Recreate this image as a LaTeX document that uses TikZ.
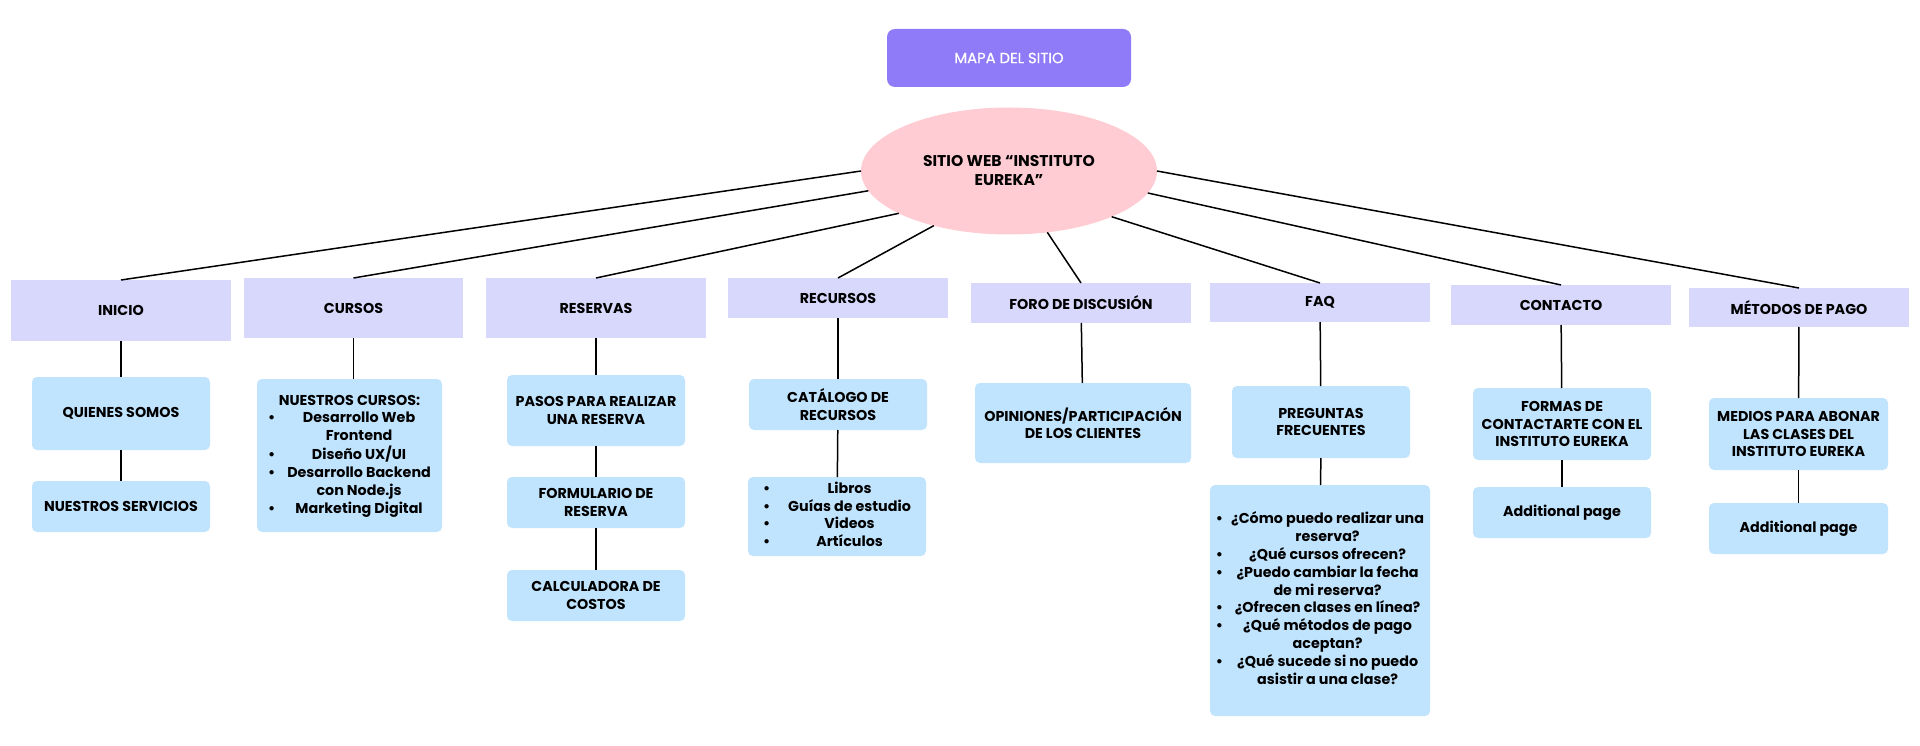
\documentclass[tikz,border=0pt]{standalone}
\usepackage{fontspec}
\setmainfont{Poppins}
\newfontfamily\titlefont{Poppins}[FakeBold=0.8]
\usetikzlibrary{shapes.geometric}
\definecolor{titlec}{HTML}{8F7BF8}
\definecolor{ellc}{HTML}{FFCCD3}
\definecolor{lavc}{HTML}{D8D8FD}
\definecolor{bluec}{HTML}{C1E4FE}
\begin{document}
\begin{tikzpicture}[x=1pt,y=-1pt,
  every node/.style={inner sep=0pt, outer sep=0pt, align=center, text=black,
    font=\fontsize{14.3}{17.8}\selectfont\bfseries},
  lvlone/.style={fill=lavc, rectangle},
  lvltwo/.style={fill=bluec, rectangle, rounded corners=5pt},
  conn/.style={line width=1.5pt, draw=black}]
\fill[white] (0,0) rectangle (1920,746);
\useasboundingbox (0,0) rectangle (1920,746);

% title and centre
\node[fill=titlec, rounded corners=8pt, minimum width=244, minimum height=58,
  text=white, font=\titlefont\fontsize{14.8}{17}\selectfont] (title) at (1009,58) {MAPA DEL SITIO};
\node[ellipse, fill=ellc, minimum width=296, minimum height=127,
  font=\fontsize{15.6}{19}\selectfont\bfseries] (web) at (1009,171)
  {SITIO WEB “INSTITUTO\\EUREKA”};

% level one
\node[lvlone, minimum width=220, minimum height=61] (inicio) at (121,310.5) {INICIO};
\node[lvlone, minimum width=219, minimum height=60] (cursos) at (353.5,308) {CURSOS};
\node[lvlone, minimum width=220, minimum height=60] (reservas) at (596,308) {RESERVAS};
\node[lvlone, minimum width=220, minimum height=40] (recursos) at (838,298) {RECURSOS};
\node[lvlone, minimum width=220, minimum height=40] (foro) at (1081,303) {FORO DE DISCUSIÓN};
\node[lvlone, minimum width=220, minimum height=39] (faq) at (1320,302.5) {FAQ};
\node[lvlone, minimum width=220, minimum height=40] (contacto) at (1561,305) {CONTACTO};
\node[lvlone, minimum width=220, minimum height=39] (metodos) at (1799,307.5) {MÉTODOS DE PAGO};

% level two
\node[lvltwo, minimum width=178, minimum height=73] (quienes) at (121,413.5) {QUIENES SOMOS};
\node[lvltwo, minimum width=178, minimum height=51] (servicios) at (121,506.5) {NUESTROS SERVICIOS};
\node[lvltwo, minimum width=185, minimum height=153] (ncursos) at (349.5,455.5)
  {\begin{tabular}{@{}c@{\hspace{12pt}}c@{}}
   \multicolumn{2}{@{}c@{}}{NUESTROS CURSOS:}\\
   \textbullet & Desarrollo Web\\
               & Frontend\\
   \textbullet & Diseño UX/UI\\
   \textbullet & Desarrollo Backend\\
               & con Node.js\\
   \textbullet & Marketing Digital
   \end{tabular}};
\node[lvltwo, minimum width=178, minimum height=71] (pasos) at (596,410.5) {PASOS PARA REALIZAR\\UNA RESERVA};
\node[lvltwo, minimum width=178, minimum height=51] (formulario) at (596,502.5) {FORMULARIO DE\\RESERVA};
\node[lvltwo, minimum width=178, minimum height=51] (calculadora) at (596,595.5) {CALCULADORA DE\\COSTOS};
\node[lvltwo, minimum width=178, minimum height=51] (catalogo) at (838,404.5) {CATÁLOGO DE\\RECURSOS};
\node[lvltwo, minimum width=178, minimum height=79] (reclist) at (837,516.5)
  {\begin{tabular}{@{}c@{\hspace{18pt}}c@{}}
   \textbullet & Libros\\
   \textbullet & Guías de estudio\\
   \textbullet & Videos\\
   \textbullet & Artículos
   \end{tabular}};
\node[lvltwo, minimum width=216, minimum height=80] (opiniones) at (1083,423) {OPINIONES/PARTICIPACIÓN\\DE LOS CLIENTES};
\node[lvltwo, minimum width=178, minimum height=72] (preguntas) at (1321,422) {PREGUNTAS\\FRECUENTES};
\node[lvltwo, minimum width=220, minimum height=231] (faqlist) at (1320,600.5)
  {\begin{tabular}{@{}c@{\hspace{8pt}}c@{}}
   \textbullet & ¿Cómo puedo realizar una\\
               & reserva?\\
   \textbullet & ¿Qué cursos ofrecen?\\
   \textbullet & ¿Puedo cambiar la fecha\\
               & de mi reserva?\\
   \textbullet & ¿Ofrecen clases en línea?\\
   \textbullet & ¿Qué métodos de pago\\
               & aceptan?\\
   \textbullet & ¿Qué sucede si no puedo\\
               & asistir a una clase?
   \end{tabular}};
\node[lvltwo, minimum width=178, minimum height=72] (formas) at (1562,424) {FORMAS DE\\CONTACTARTE CON EL\\INSTITUTO EUREKA};
\node[lvltwo, minimum width=178, minimum height=51] (addone) at (1562,512.5) {Additional page};
\node[lvltwo, minimum width=179, minimum height=72] (medios) at (1798.5,434) {MEDIOS PARA ABONAR\\LAS CLASES DEL\\INSTITUTO EUREKA};
\node[lvltwo, minimum width=179, minimum height=51] (addtwo) at (1798.5,528.5) {Additional page};

% connectors from centre
\draw[conn] (web.180) -- (inicio.north);
\draw[conn] (web.188) -- (cursos.north);
\draw[conn] (web.201) -- (reservas.north);
\draw[conn] (web.216) -- (recursos.north);
\draw[conn] (web.302) -- (foro.north);
\draw[conn] (web.336) -- (faq.north);
\draw[conn] (web.351) -- (contacto.north);
\draw[conn] (web.0) -- (metodos.north);

% vertical connectors
\draw[conn] (inicio) -- (quienes);
\draw[conn] (quienes) -- (servicios);
\draw[conn] (cursos.south) -- (cursos.south |- ncursos.north);
\draw[conn] (reservas) -- (pasos);
\draw[conn] (pasos) -- (formulario);
\draw[conn] (formulario) -- (calculadora);
\draw[conn] (recursos) -- (catalogo);
\draw[conn] (catalogo) -- (reclist);
\draw[conn] (foro) -- (opiniones);
\draw[conn] (faq) -- (preguntas);
\draw[conn] (preguntas) -- (faqlist);
\draw[conn] (contacto) -- (formas);
\draw[conn] (formas) -- (addone);
\draw[conn] (metodos) -- (medios);
\draw[conn] (medios) -- (addtwo);
\end{tikzpicture}
\end{document}
